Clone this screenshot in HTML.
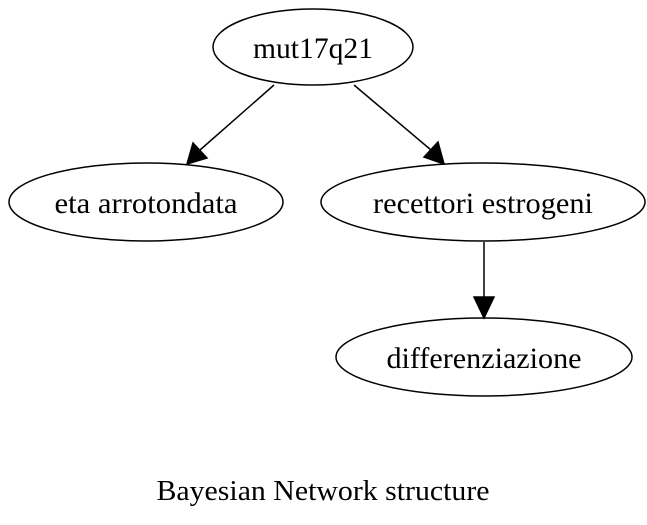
<!DOCTYPE html>
<html><head><style>html,body{margin:0;padding:0;background:#fff;}</style></head>
<body>
<svg width="647" height="520" viewBox="0 0 647 520" xmlns="http://www.w3.org/2000/svg" font-family="'Liberation Serif', serif" font-size="30">
<g fill="none" stroke="#000" stroke-width="1.5">
<ellipse cx="313" cy="47" rx="100" ry="38"/>
<ellipse cx="146" cy="202" rx="137" ry="39"/>
<ellipse cx="483" cy="202" rx="162" ry="39"/>
<ellipse cx="484" cy="357" rx="148" ry="39"/>
<line x1="274" y1="85" x2="200" y2="150"/>
<line x1="354" y1="85" x2="431" y2="150"/>
<line x1="484" y1="242" x2="484" y2="298"/>
</g>
<g fill="#000" stroke="#000" stroke-width="1.5">
<polygon points="187,164 193,143 207,158"/>
<polygon points="444,164 424,157 438,142"/>
<polygon points="484,318 474,297 494,297"/>
</g>
<g text-anchor="middle" fill="#000">
<text x="313" y="58" textLength="120" lengthAdjust="spacingAndGlyphs">mut17q21</text>
<text x="146" y="213" textLength="183" lengthAdjust="spacingAndGlyphs">eta arrotondata</text>
<text x="483" y="213" textLength="220" lengthAdjust="spacingAndGlyphs">recettori estrogeni</text>
<text x="484" y="368" textLength="195" lengthAdjust="spacingAndGlyphs">differenziazione</text>
<text x="323" y="500" font-size="29" textLength="333" lengthAdjust="spacingAndGlyphs">Bayesian Network structure</text>
</g>
</svg>
</body></html>
